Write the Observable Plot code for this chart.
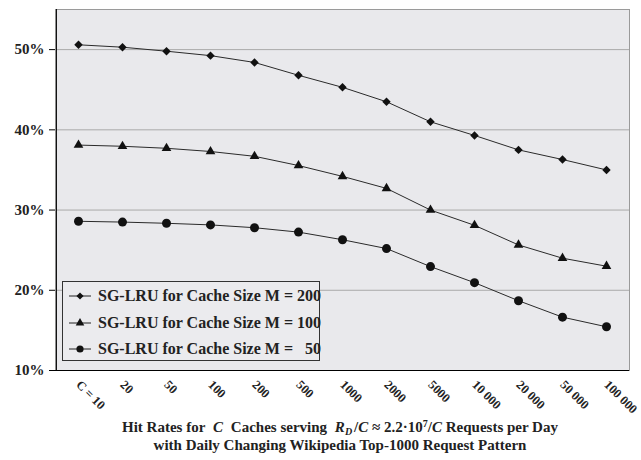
<!DOCTYPE html>
<html>
<head>
<meta charset="utf-8">
<script src="https://cdn.jsdelivr.net/npm/d3@7"></script>
<script src="https://cdn.jsdelivr.net/npm/@observablehq/plot@0.6"></script>
<style>
  html, body { margin: 0; padding: 0; background: #fff; }
  #wrap { position: relative; width: 641px; height: 460px; font-family: "Liberation Serif", "Times New Roman", serif; font-weight: bold; }
  #legend { position: absolute; left: 62px; top: 281px; width: 256px; height: 78px; border: 1px solid #333; background: #ebebee; box-sizing: content-box; }
  .row { position: absolute; left: 0; height: 20px; display: flex; align-items: center; font-size: 16px; white-space: pre; color: #222; }
  .row svg { display: block; margin-right: 5px; margin-left: 4px; }
  .cap { position: absolute; left: 40px; width: 600px; text-align: center; font-size: 15px; line-height: 18px; color: #222; white-space: pre; }
  .cap span { display: inline-block; }
  .cap .it { font-style: italic; }
  .cap .wide { margin: 0 4px; }
  .cap .sub { font-size: 10px; position: relative; top: 3px; margin-right: 2px; }
  .cap .sup { font-size: 10px; position: relative; top: -5px; }
</style>
</head>
<body>
<div id="wrap">
  <div id="chart"></div>
  <div id="legend"></div>
  <div class="cap" style="top:418px"><span>Hit Rates for</span> <span class="it wide">C</span> <span>Caches serving</span> <span class="it" style="margin-left:4px">R</span><span class="it sub">D</span><span>/</span><span class="it">C</span><span>&nbsp;≈ 2.2·10</span><span class="sup">7</span><span>/</span><span class="it">C</span> <span>Requests per Day</span></div>
  <div class="cap" style="top:436px"><span>with Daily Changing Wikipedia Top-1000 Request Pattern</span></div>
</div>
<script>
const cacheLabels = ["C = 10", "20", "50", "100", "200", "500", "1000", "2000", "5000", "10 000", "20 000", "50 000", "100 000"];
const hitM200 = [50.6, 50.3, 49.8, 49.25, 48.4, 46.8, 45.3, 43.5, 41.0, 39.3, 37.5, 36.3, 35.0];
const hitM100 = [38.1, 37.95, 37.7, 37.3, 36.7, 35.55, 34.2, 32.7, 30.0, 28.1, 25.65, 24.0, 23.0];
const hitM50  = [28.6, 28.5, 28.35, 28.15, 27.8, 27.25, 26.3, 25.2, 22.95, 20.95, 18.7, 16.65, 15.45];
const seriesNames = ["SG-LRU for Cache Size M = 200", "SG-LRU for Cache Size M = 100", "SG-LRU for Cache Size M =   50"];
const seriesSymbols = ["diamond2", "triangle", "circle"];
const seriesR = [3.8, 3.6, 4.5];
const yTicks = [10, 20, 30, 40, 50];

const allSeries = [hitM200, hitM100, hitM50];
const rows = [];
allSeries.forEach((vals, s) => vals.forEach((v, i) => rows.push({c: cacheLabels[i], v, s})));

const lineMarks = [];
allSeries.forEach((vals, s) => {
  const d = rows.filter(r => r.s === s);
  lineMarks.push(Plot.line(d, {x: "c", y: "v", stroke: "#2a2a2a", strokeWidth: 1}));
  lineMarks.push(Plot.dot(d, {x: "c", y: "v", symbol: () => seriesSymbols[s], r: seriesR[s], fill: "#111", stroke: "none"}));
});

const W = 641, ML = 55, MR = 12;
const halfStep = (W - ML - MR) / cacheLabels.length / 2;

const chart = Plot.plot({
  width: W,
  height: 416,
  marginLeft: ML,
  marginRight: MR,
  marginTop: 9,
  marginBottom: 46,
  style: {fontFamily: "Liberation Serif, serif", fontWeight: "bold", background: "transparent", overflow: "visible"},
  x: {type: "point", domain: cacheLabels, padding: 0.5, axis: null},
  y: {domain: [10, 55], axis: null},
  symbol: {type: "identity"},
  marks: [
    Plot.frame({fill: "#e9e9ec", stroke: null}),
    Plot.ruleY(yTicks.slice(1), {stroke: "#a9a9a9", strokeWidth: 1}),
    Plot.frame({stroke: "#9a9a9a", strokeWidth: 1}),
    Plot.axisY(yTicks, {tickFormat: d => d + "%", tickSize: 6, tickPadding: 5, fontSize: 15, fontWeight: "bold", fill: "#222", stroke: "#000", label: null}),
    Plot.ruleX([cacheLabels[0]], {dx: -halfStep, stroke: "#000"}),
    Plot.ruleY([10], {stroke: "#000"}),
    ...lineMarks,
    Plot.text(cacheLabels, {x: d => d, frameAnchor: "bottom", rotate: 45, textAnchor: "start", lineAnchor: "bottom", dx: -3, dy: 15, fontSize: 12.5, fontWeight: "bold", fill: "#222"})
  ]
});
document.getElementById("chart").appendChild(chart);

// legend
const legend = document.getElementById("legend");
seriesNames.forEach((name, s) => {
  const row = document.createElement("div");
  row.className = "row";
  row.style.top = (4 + s * 26.5) + "px";
  const sym = d3.symbol(s === 0 ? d3.symbolDiamond2 : s === 1 ? d3.symbolTriangle : d3.symbolCircle, Math.PI * (s === 2 ? 3.6 : 3.2) ** 2)();
  row.innerHTML = `<svg width="26" height="14" viewBox="-13 -7 26 14"><line x1="-11" x2="11" y1="0" y2="0" stroke="#222" stroke-width="1"/><path d="${sym}" fill="#111"/></svg>` + name;
  legend.appendChild(row);
});
</script>
</body>
</html>
